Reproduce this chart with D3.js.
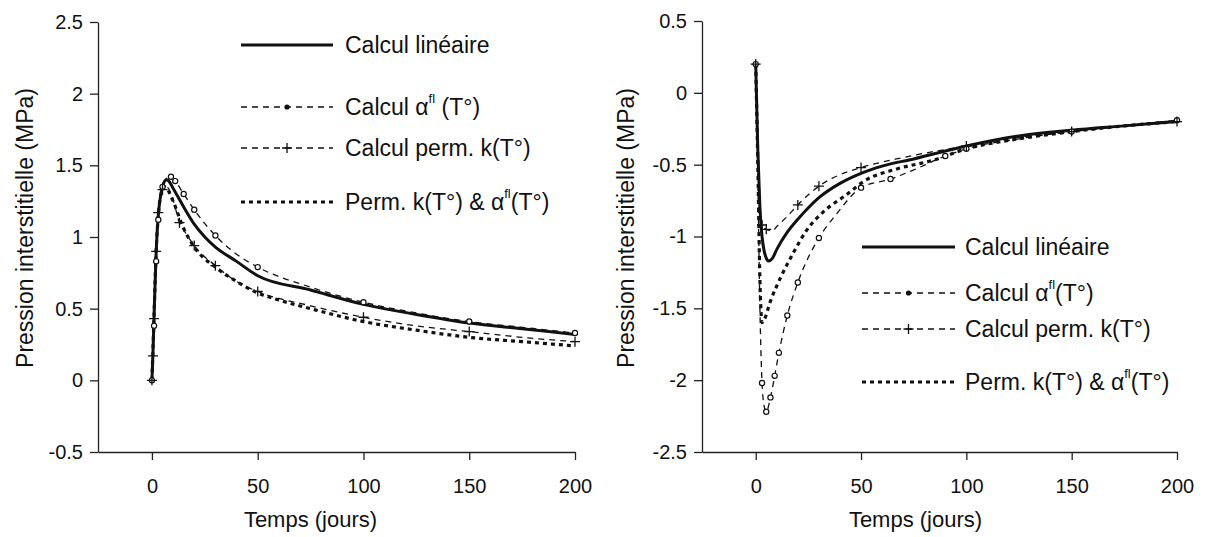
<!DOCTYPE html>
<html>
<head>
<meta charset="utf-8">
<script src="https://cdn.jsdelivr.net/npm/d3@7"></script>
<style>
  html, body { margin: 0; padding: 0; background: #fff; }
  svg { display: block; font-family: "Liberation Sans", Arial, Helvetica, sans-serif; }
</style>
</head>
<body>
<svg id="chart" width="1205" height="537"></svg>
<script>
// ---------------- DATA ----------------
const xTicks = [0, 50, 100, 150, 200];
const leftYTicks = [2.5, 2, 1.5, 1, 0.5, 0, -0.5];
const rightYTicks = [0.5, 0, -0.5, -1, -1.5, -2, -2.5];
const xTitle = "Temps (jours)";
const yTitle = "Pression interstitielle (MPa)";
const seriesNames = ["Calcul linéaire", "Calcul α(fl)(T°)", "Calcul perm. k(T°)", "Perm. k(T°) & α(fl)(T°)"];

// Left chart (heating phase)
const L_lin_t = [0, 0.5, 1, 2, 3, 4, 5, 6, 7, 8, 10, 15, 20, 25, 30, 40, 50, 75, 100, 125, 150, 175, 200];
const L_lin_v = [0, 0.2, 0.45, 0.9, 1.15, 1.28, 1.35, 1.39, 1.40, 1.39, 1.34, 1.21, 1.09, 1.0, 0.93, 0.83, 0.73, 0.63, 0.53, 0.46, 0.40, 0.36, 0.32];
const L_alpha_t = [0, 1, 2, 3, 4, 5, 6, 8, 9, 11, 15, 20, 30, 40, 50, 75, 100, 125, 150, 175, 200];
const L_alpha_v = [0, 0.38, 0.83, 1.12, 1.27, 1.35, 1.39, 1.42, 1.42, 1.39, 1.30, 1.19, 1.01, 0.88, 0.79, 0.65, 0.545, 0.47, 0.41, 0.37, 0.33];
const L_alpha_mk = [0, 1, 2, 3, 5, 9, 11, 15, 20, 30, 50, 100, 150, 200];
const L_perm_t = [0, 0.5, 1, 2, 3, 4, 5, 6, 7, 10, 13, 15, 20, 30, 40, 50, 75, 100, 125, 150, 175, 200];
const L_perm_v = [0, 0.17, 0.43, 0.9, 1.17, 1.28, 1.33, 1.35, 1.35, 1.26, 1.10, 1.05, 0.94, 0.80, 0.69, 0.62, 0.52, 0.44, 0.38, 0.34, 0.30, 0.27];
const L_perm_mk = [0, 0.5, 1, 2, 3, 5, 13, 20, 30, 50, 100, 150, 200];
const L_both_t = [0, 1, 2, 3, 4, 5, 6, 7, 10, 15, 20, 30, 40, 50, 60, 75, 100, 125, 150, 175, 200];
const L_both_v = [0, 0.45, 0.9, 1.15, 1.28, 1.33, 1.35, 1.34, 1.25, 1.06, 0.93, 0.79, 0.69, 0.61, 0.56, 0.50, 0.41, 0.35, 0.30, 0.27, 0.24];

// Right chart (cooling phase)
const R_lin_t = [0, 1, 2, 3, 4, 5, 6, 8, 10, 15, 20, 25, 30, 40, 50, 60, 75, 100, 125, 150, 175, 200];
const R_lin_v = [0.2, -0.4, -0.8, -1.0, -1.1, -1.15, -1.17, -1.15, -1.09, -0.97, -0.88, -0.80, -0.73, -0.63, -0.56, -0.51, -0.46, -0.37, -0.30, -0.26, -0.23, -0.20];
const R_alpha_t = [0, 1, 2, 3, 4, 5, 7, 9, 11, 15, 20, 30, 38, 50, 64, 76, 90, 100, 125, 150, 175, 200];
const R_alpha_v = [0.2, -0.6, -1.5, -2.02, -2.18, -2.22, -2.12, -1.97, -1.81, -1.55, -1.32, -1.01, -0.85, -0.66, -0.60, -0.53, -0.44, -0.39, -0.32, -0.27, -0.23, -0.19];
const R_alpha_mk = [0, 3, 5, 7, 9, 11, 15, 20, 30, 50, 64, 90, 100, 150, 200];
const R_perm_t = [0, 1, 2, 3, 5, 8, 10, 15, 20, 30, 40, 50, 70, 100, 125, 150, 175, 200];
const R_perm_v = [0.2, -0.3, -0.75, -0.92, -0.95, -0.96, -0.93, -0.86, -0.78, -0.65, -0.57, -0.52, -0.45, -0.37, -0.31, -0.27, -0.23, -0.20];
const R_perm_mk = [0, 3, 5, 20, 30, 50, 100, 150, 200];
const R_both_t = [0, 1, 2, 3, 4, 7, 12, 18, 24, 32, 43, 52, 67, 84, 100, 125, 150, 175, 200];
const R_both_v = [0.2, -0.5, -1.3, -1.6, -1.58, -1.45, -1.28, -1.11, -0.96, -0.83, -0.71, -0.61, -0.53, -0.47, -0.39, -0.32, -0.27, -0.23, -0.20];

// ---------------- DRAW ----------------
const svg = d3.select("#chart");
const FONT_TICK = 20, FONT_TITLE = 22, FONT_LEG = 23;

function zip(t, v) { return t.map((d, i) => ({ t: d, v: v[i] })); }

function drawPanel(opt) {
  const g = svg.append("g");
  const x = d3.scaleLinear().domain([-25.5, 200]).range(opt.xRange);
  const y = d3.scaleLinear().domain(opt.yDomain).range(opt.yRange);

  // axes
  const yAxis = d3.axisLeft(y).tickValues(opt.yTicks).tickSize(8).tickSizeOuter(0).tickPadding(7)
    .tickFormat(d => String(d).replace("\u2212", "-"));
  const yg = g.append("g").attr("transform", `translate(${opt.xRange[0]},0)`).call(yAxis);
  const xAxis = d3.axisBottom(x).tickValues(xTicks).tickSize(8).tickSizeOuter(0).tickPadding(19)
    .tickFormat(d => String(d));
  const xg = g.append("g").attr("transform", `translate(0,${opt.yRange[0]})`).call(xAxis);
  [yg, xg].forEach(a => {
    a.selectAll("text").attr("font-size", FONT_TICK).attr("fill", "#111").attr("font-family", "Liberation Sans, Arial, sans-serif");
    a.selectAll("line,path").attr("stroke", "#222").attr("stroke-width", 1.3);
  });

  // titles
  g.append("text").attr("x", (opt.xRange[0] + opt.xRange[1]) / 2 + opt.xTitleShift).attr("y", 527)
    .attr("text-anchor", "middle").attr("font-size", FONT_TITLE).attr("fill", "#111").text(xTitle);
  g.append("text").attr("transform", `translate(${opt.yTitleX},${opt.yTitleY}) rotate(-90)`)
    .attr("text-anchor", "middle").attr("dominant-baseline", "middle")
    .attr("font-size", FONT_TITLE + 1).attr("fill", "#111").text(yTitle);

  const line = d3.line().x(d => x(d.t)).y(d => y(d.v)).curve(d3.curveMonotoneX);

  // series
  const sLin = zip(opt.lin[0], opt.lin[1]);
  const sAlpha = zip(opt.alpha[0], opt.alpha[1]);
  const sPerm = zip(opt.perm[0], opt.perm[1]);
  const sBoth = zip(opt.both[0], opt.both[1]);

  g.append("path").datum(sAlpha).attr("d", line).attr("fill", "none").attr("stroke", "#111")
    .attr("stroke-width", 1.3).attr("stroke-dasharray", "6,5");
  g.append("path").datum(sPerm).attr("d", line).attr("fill", "none").attr("stroke", "#111")
    .attr("stroke-width", 1.3).attr("stroke-dasharray", "6,5");
  g.append("path").datum(sBoth).attr("d", line).attr("fill", "none").attr("stroke", "#111")
    .attr("stroke-width", 3.2).attr("stroke-dasharray", "4,4");
  g.append("path").datum(sLin).attr("d", line).attr("fill", "none").attr("stroke", "#111")
    .attr("stroke-width", 3);

  // markers
  g.selectAll(null).data(sAlpha.filter(d => opt.alphaMk.includes(d.t))).enter().append("circle")
    .attr("cx", d => x(d.t)).attr("cy", d => y(d.v)).attr("r", 2.6)
    .attr("fill", "#fff").attr("stroke", "#111").attr("stroke-width", 1.2);
  g.selectAll(null).data(sPerm.filter(d => opt.permMk.includes(d.t))).enter().append("path")
    .attr("d", d => { const cx = x(d.t), cy = y(d.v); return `M${cx - 5},${cy}H${cx + 5}M${cx},${cy - 5}V${cy + 5}`; })
    .attr("stroke", "#111").attr("stroke-width", 1.3).attr("fill", "none");

  // legend
  const L = opt.legend;
  const rows = L.rows;
  const lx0 = L.x0, lx1 = L.x1, tx = L.tx;
  g.append("line").attr("x1", lx0).attr("x2", lx1).attr("y1", rows[0]).attr("y2", rows[0])
    .attr("stroke", "#111").attr("stroke-width", 3);
  g.append("line").attr("x1", lx0).attr("x2", lx1).attr("y1", rows[1]).attr("y2", rows[1])
    .attr("stroke", "#111").attr("stroke-width", 1.3).attr("stroke-dasharray", "6,5");
  g.append("circle").attr("cx", (lx0 + lx1) / 2).attr("cy", rows[1]).attr("r", 2.6).attr("fill", "#111");
  g.append("line").attr("x1", lx0).attr("x2", lx1).attr("y1", rows[2]).attr("y2", rows[2])
    .attr("stroke", "#111").attr("stroke-width", 1.3).attr("stroke-dasharray", "6,5");
  const pcx = (lx0 + lx1) / 2;
  g.append("path").attr("d", `M${pcx - 5},${rows[2]}H${pcx + 5}M${pcx},${rows[2] - 5}V${rows[2] + 5}`)
    .attr("stroke", "#111").attr("stroke-width", 1.3);
  g.append("line").attr("x1", lx0).attr("x2", lx1).attr("y1", rows[3]).attr("y2", rows[3])
    .attr("stroke", "#111").attr("stroke-width", 3.2).attr("stroke-dasharray", "4,4");

  const txt = (row) => g.append("text").attr("x", tx).attr("y", row + 8)
    .attr("font-size", FONT_LEG).attr("fill", "#111");
  txt(rows[0]).text(seriesNames[0]);
  const t1 = txt(rows[1]);
  t1.append("tspan").text("Calcul α");
  t1.append("tspan").attr("dy", -12).attr("font-size", 13).text("fl");
  t1.append("tspan").attr("dy", 12).text(L.alphaSpace ? " (T°)" : "(T°)");
  txt(rows[2]).text(seriesNames[2]);
  const t3 = txt(rows[3]);
  t3.append("tspan").text("Perm. k(T°) & α");
  t3.append("tspan").attr("dy", -12).attr("font-size", 13).text("fl");
  t3.append("tspan").attr("dy", 12).text("(T°)");
}

drawPanel({
  xRange: [98, 575], yDomain: [-0.5, 2.5], yRange: [452, 22], yTicks: leftYTicks,
  yTitleX: 27, yTitleY: 228, xTitleShift: -26,
  lin: [L_lin_t, L_lin_v], alpha: [L_alpha_t, L_alpha_v], perm: [L_perm_t, L_perm_v], both: [L_both_t, L_both_v],
  alphaMk: L_alpha_mk, permMk: L_perm_mk,
  legend: { x0: 241, x1: 333, tx: 345, rows: [45, 107, 148, 202], alphaSpace: true }
});

drawPanel({
  xRange: [702, 1177], yDomain: [-2.5, 0.5], yRange: [452, 21], yTicks: rightYTicks,
  yTitleX: 628, yTitleY: 228, xTitleShift: -24,
  lin: [R_lin_t, R_lin_v], alpha: [R_alpha_t, R_alpha_v], perm: [R_perm_t, R_perm_v], both: [R_both_t, R_both_v],
  alphaMk: R_alpha_mk, permMk: R_perm_mk,
  legend: { x0: 862, x1: 955, tx: 965, rows: [247, 293, 329, 382], alphaSpace: false }
});
</script>
</body>
</html>
